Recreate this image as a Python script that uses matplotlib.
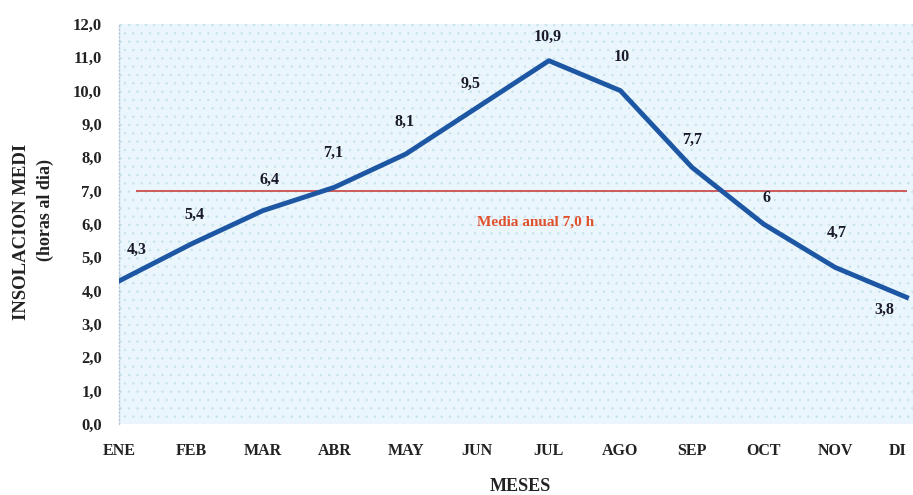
import matplotlib.pyplot as plt
from matplotlib.ticker import FuncFormatter

# datos
MESES = ["ENE", "FEB", "MAR", "ABR", "MAY", "JUN",
         "JUL", "AGO", "SEP", "OCT", "NOV", "DI"]
INSOLACION = [4.3, 5.4, 6.4, 7.1, 8.1, 9.5, 10.9, 10.0, 7.7, 6.0, 4.7, 3.8]
ETIQUETAS = ["4,3", "5,4", "6,4", "7,1", "8,1", "9,5",
             "10,9", "10", "7,7", "6", "4,7", "3,8"]
MEDIA_ANUAL = 7.0
Y_TICKS = [0, 1, 2, 3, 4, 5, 6, 7, 8, 9, 10, 11, 12]

# desplazamiento de cada etiqueta (en puntos)
OFFSETS = [(12, 22), (2, 21), (5, 22), (-1, 25), (-1, 23), (-5, 17),
           (-1, 17), (1, 24), (0, 20), (2, 19), (1, 25), (-16, -9)]

plt.rcParams['font.family'] = ['Liberation Serif', 'DejaVu Serif']
plt.rcParams['font.weight'] = 'bold'
plt.rcParams['hatch.linewidth'] = 0.5

fig = plt.figure(figsize=(9.13, 4.95), dpi=100)
ax = fig.add_axes([0.130, 0.1434, 0.87, 0.8081])

ax.set_facecolor('#eaf6fb')
ax.patch.set_hatch('..')
ax.patch.set_edgecolor('#c6e2ee')

x = list(range(len(MESES)))

ax.hlines(MEDIA_ANUAL, 0.23, x[-1], color='#cc4f4f', linewidth=1.3, zorder=2)
ax.plot(x, INSOLACION, color='#1d57a4', linewidth=3.5, zorder=3,
        solid_joinstyle='round')

for xi, yi, lab, off in zip(x, INSOLACION, ETIQUETAS, OFFSETS):
    ax.annotate(lab, (xi, yi), xytext=off, textcoords='offset points',
                ha='center', va='center', fontsize=11.5, fontweight='bold',
                color='#1a1a2a')

ax.text(5.81, MEDIA_ANUAL - 0.95, "Media anual 7,0 h", ha='center', va='center',
        fontsize=11, fontweight='bold', color='#e0502c')

ax.set_xlim(-0.014, 11.09)
ax.set_ylim(0, 12)
ax.set_xticks(x)
ax.set_xticklabels(MESES)
ax.set_yticks(Y_TICKS)
ax.yaxis.set_major_formatter(FuncFormatter(lambda v, p: f"{v:.1f}".replace('.', ',')))
ax.tick_params(axis='x', length=0, labelsize=11.5, colors='#222222', pad=14)
ax.tick_params(axis='y', length=0, labelsize=12, colors='#222222', pad=12)
for lbl in ax.get_xticklabels() + ax.get_yticklabels():
    lbl.set_fontweight('bold')
ax.get_xticklabels()[-1].set_horizontalalignment('right')

for side in ['top', 'right', 'bottom']:
    ax.spines[side].set_visible(False)
ax.spines['left'].set_color('#b8c8d8')
ax.spines['left'].set_linestyle(':')
ax.spines['left'].set_linewidth(1.0)

fig.text(0.024, 0.531, "INSOLACION MEDI", rotation=90, ha='center', va='center',
         fontsize=13.5, fontweight='bold', color='#222222')
fig.text(0.050, 0.575, "(horas al dia)", rotation=90, ha='center', va='center',
         fontsize=13, fontweight='bold', color='#222222')
fig.text(0.570, 0.018, "MESES", ha='center', va='center',
         fontsize=13, fontweight='bold', color='#222222')

fig.savefig('out.png', dpi=100)
